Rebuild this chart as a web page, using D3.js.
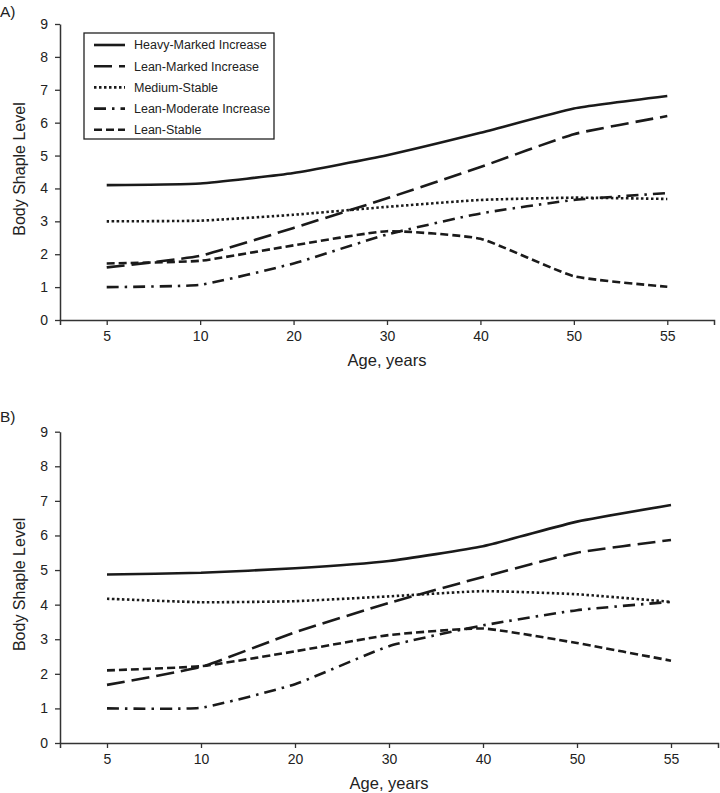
<!DOCTYPE html>
<html>
<head>
<meta charset="utf-8">
<script src="https://cdn.jsdelivr.net/npm/d3@7"></script>
<style>
  html, body { margin: 0; padding: 0; background: #fff; }
  svg { display: block; font-family: "Liberation Sans", Arial, Helvetica, sans-serif; }
</style>
</head>
<body>
<svg id="chart" width="720" height="793"></svg>
<script>
// ---- Data ----
const ages = ["5", "10", "20", "30", "40", "50", "55"];
const seriesNames = ["Heavy-Marked Increase", "Lean-Marked Increase", "Medium-Stable", "Lean-Moderate Increase", "Lean-Stable"];
const yTicks = [0, 1, 2, 3, 4, 5, 6, 7, 8, 9];

// Panel A
const aHeavyMarked   = [4.10, 4.15, 4.47, 5.01, 5.69, 6.43, 6.81];
const aLeanMarked    = [1.60, 1.95, 2.80, 3.70, 4.65, 5.65, 6.20];
const aMediumStable  = [3.00, 3.02, 3.20, 3.44, 3.65, 3.72, 3.68];
const aLeanModerate  = [1.00, 1.07, 1.72, 2.60, 3.24, 3.65, 3.86];
const aLeanStable    = [1.72, 1.80, 2.27, 2.70, 2.47, 1.33, 1.01];

// Panel B
const bHeavyMarked   = [4.87, 4.92, 5.05, 5.26, 5.69, 6.40, 6.88];
const bLeanMarked    = [1.68, 2.20, 3.20, 4.05, 4.80, 5.50, 5.87];
const bMediumStable  = [4.17, 4.07, 4.10, 4.24, 4.39, 4.30, 4.08];
const bLeanModerate  = [1.00, 1.02, 1.70, 2.80, 3.40, 3.84, 4.08];
const bLeanStable    = [2.10, 2.22, 2.65, 3.12, 3.31, 2.89, 2.38];

// ---- Styles ----
const dashes = [null, "18,7", "2.5,2.5", "12,6,2.5,6", "8,4"];
const ink = "#1a1a1a";

const svg = d3.select("#chart");

function drawPanel(opt) {
  const g = svg.append("g");
  const x = d3.scalePoint().domain(ages).range([opt.left, opt.right]).padding(0.5);
  const y = d3.scaleLinear().domain([0, 9]).range([opt.bottom, opt.top]);

  // panel label
  g.append("text").attr("x", 0).attr("y", opt.labelY)
    .attr("font-size", 15.5).attr("fill", "#222").text(opt.label);

  // y axis
  const ya = g.append("g").attr("transform", `translate(${opt.left},0)`)
    .call(d3.axisLeft(y).tickValues(yTicks).tickFormat(d3.format("d")).tickSize(5).tickSizeOuter(0).tickPadding(7));
  // x axis
  const xa = g.append("g").attr("transform", `translate(0,${opt.bottom})`)
    .call(d3.axisBottom(x).tickSize(5).tickSizeOuter(5).tickPadding(6));
  [ya, xa].forEach(a => {
    a.select(".domain").attr("stroke", "#333").attr("stroke-width", 1.5);
    a.selectAll(".tick line").attr("stroke", "#333").attr("stroke-width", 1.3);
    a.selectAll(".tick text").attr("font-size", 14).attr("fill", "#222")
      .attr("font-family", "'Liberation Sans', Arial, sans-serif");
  });

  // axis titles
  g.append("text")
    .attr("transform", `translate(${opt.left - 35},${(opt.top + opt.bottom) / 2 - 3}) rotate(-90)`)
    .attr("text-anchor", "middle").attr("font-size", 16).attr("fill", "#222")
    .text("Body Shaple Level");
  g.append("text")
    .attr("x", (opt.left + opt.right) / 2).attr("y", opt.bottom + 46)
    .attr("text-anchor", "middle").attr("font-size", 16.5).attr("fill", "#222")
    .text("Age, years");

  // lines
  const line = d3.line()
    .x((d, i) => x(ages[i]))
    .y(d => y(d))
    .curve(d3.curveCardinal.tension(0.55));
  opt.series.forEach((vals, k) => {
    g.append("path").datum(vals)
      .attr("d", line)
      .attr("fill", "none")
      .attr("stroke", ink)
      .attr("stroke-width", 2.6)
      .attr("stroke-dasharray", dashes[k]);
  });

  // legend
  if (opt.legend) {
    const L = opt.legend;
    const lg = g.append("g").attr("transform", `translate(${L.x},${L.y})`);
    lg.append("rect").attr("x", 0).attr("y", 0).attr("width", L.w).attr("height", L.h)
      .attr("fill", "#fff").attr("stroke", "#222").attr("stroke-width", 1.3);
    seriesNames.forEach((name, k) => {
      const cy = 12 + k * 21.2;
      lg.append("line").attr("x1", 10).attr("x2", 41).attr("y1", cy).attr("y2", cy)
        .attr("stroke", ink).attr("stroke-width", 2.6).attr("stroke-dasharray", dashes[k]);
      lg.append("text").attr("x", 50).attr("y", cy).attr("dy", "0.35em")
        .attr("font-size", 12.5).attr("fill", "#222").text(name);
    });
  }
}

drawPanel({
  label: "A)", labelY: 17,
  left: 60, right: 714, top: 24, bottom: 320,
  series: [aHeavyMarked, aLeanMarked, aMediumStable, aLeanModerate, aLeanStable],
  legend: { x: 84, y: 33, w: 190, h: 106 }
});

drawPanel({
  label: "B)", labelY: 422,
  left: 60, right: 718, top: 431.7, bottom: 743,
  series: [bHeavyMarked, bLeanMarked, bMediumStable, bLeanModerate, bLeanStable],
  legend: null
});
</script>
</body>
</html>
